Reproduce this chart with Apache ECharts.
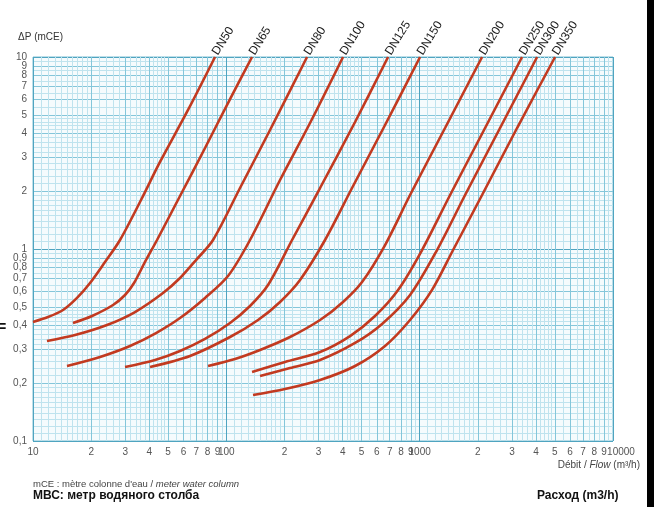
<!DOCTYPE html>
<html><head><meta charset="utf-8">
<script src="https://cdn.jsdelivr.net/npm/echarts@6/dist/echarts.min.js"></script>
<style>html,body{margin:0;padding:0;background:#fff}#c{width:654px;height:507px}</style>
</head><body><div id="c"></div>
<script>
// ---- data (flow m3/h, pressure drop mCE) ----
const seriesNames = ['DN50','DN65','DN80','DN100','DN125','DN150','DN200','DN250','DN300','DN350'];
const dn50  = [[10,0.417],[11.96,0.442],[14.3,0.481],[16.89,0.556],[19.72,0.665],[23.58,0.856],[28.19,1.114],[36.2,1.80],[45.39,2.84],[63.38,5.30],[87.41,10]];
const dn65  = [[16.1,0.412],[20.2,0.448],[25.94,0.511],[29.92,0.576],[33.31,0.665],[37.96,0.856],[43.81,1.114],[57.61,1.888],[77.59,3.357],[104.5,6.04],[135.8,10]];
const dn80  = [[11.81,0.332],[16.5,0.3565],[24.14,0.402],[33.71,0.4697],[47.05,0.59],[57.61,0.706],[69.7,0.876],[85.35,1.114],[117.7,2.078],[168.3,4.167],[261.5,10]];
const dn100 = [[14.99,0.2458],[22.22,0.274],[31.76,0.3125],[43.28,0.365],[57.61,0.437],[77.59,0.556],[102,0.723],[132.6,1.114],[189.6,2.288],[271,4.53],[401.5,10]];
const dn125 = [[29.92,0.2428],[42.77,0.2642],[57.61,0.2944],[77.59,0.34],[104.5,0.412],[132.6,0.505],[164.3,0.649],[218.8,1.114],[305.3,2.078],[463.4,4.587],[686.5,10]];
const dn150 = [[40.3,0.2428],[64.9,0.2772],[104.5,0.348],[145.9,0.4267],[189.6,0.53],[240.6,0.69],[324,1.114],[446.9,2.078],[662.2,4.425],[1004.6,10]];
const dn200 = [[80.41,0.2458],[110.9,0.2674],[149.4,0.2978],[213.5,0.348],[305.3,0.4267],[401.5,0.53],[503.5,0.673],[662.2,1.049],[891.9,1.911],[1353,4.267],[2103,10]];
const dn250 = [[135.8,0.2288],[201.2,0.258],[305.3,0.2908],[436.4,0.352],[587.7,0.448],[773.3,0.612],[1029,0.988],[1437,1.911],[2179,4.267],[3386,10]];
const dn300 = [[149.4,0.218],[213.5,0.24],[305.3,0.2642],[463.4,0.324],[639,0.407],[891.9,0.576],[1230,0.988],[1718,1.911],[2605,4.267],[4050,10]];
const dn350 = [[137.4,0.1736],[201.2,0.1865],[305.3,0.2078],[463.4,0.2458],[662.2,0.3125],[891.9,0.4267],[1159,0.612],[1489,0.988],[2103,1.911],[3190,4.267],[5016,10]];
const seriesData = [dn50,dn65,dn80,dn100,dn125,dn150,dn200,dn250,dn300,dn350];

const xTickValues = [10,20,30,40,50,60,70,80,90,100,200,300,400,500,600,700,800,900,1000,2000,3000,4000,5000,6000,7000,8000,9000,10000];
const xTickLabels = ['10','2','3','4','5','6','7','8','9','100','2','3','4','5','6','7','8','9','1000','2','3','4','5','6','7','8','9','10000'];
const yTickValues = [0.1,0.2,0.3,0.4,0.5,0.6,0.7,0.8,0.9,1,2,3,4,5,6,7,8,9,10];
const yTickLabels = ['0,1','0,2','0,3','0,4','0,5','0,6','0,7','0,8','0,9','1','2','3','4','5','6','7','8','9','10'];

// graph-paper grid values
function decades(lo, hi){ const d=[]; for(let v=lo; v<hi*1.0001; v*=10) d.push(v); return d; }
function majorVals(lo,hi){ return decades(lo,hi); }
function mediumVals(lo,hi){ const r=[]; decades(lo,hi).forEach(d=>{ if(d<hi*0.999) for(let k=2;k<=9;k++) r.push(d*k); }); return r; }
function fineVals(lo,hi){ const r=[]; decades(lo,hi).forEach(d=>{ if(d>=hi*0.999) return;
  for(let k=11;k<20;k++) r.push(d*k/10);
  for(let k=22;k<50;k+=2) if(k%10) r.push(d*k/10);
  for(let k=55;k<100;k+=5) if(k%10) r.push(d*k/10);
}); return r; }

const FONT = '"Liberation Sans", Arial, Helvetica, sans-serif';
function lookup(vals, labels){ return v => { const i = vals.findIndex(t => Math.abs(t - v) / t < 1e-4); return i >= 0 ? labels[i] : ''; }; }
const labelStyle = {color:'#555', fontSize:10, fontFamily:FONT, showMinLabel:true, showMaxLabel:true, hideOverlap:false};

function gridAxis(pos, lo, hi, vals, color, extra){
  return Object.assign({
    type:'log', logBase:10, min:lo, max:hi, gridIndex:0, position:pos, offset:0,
    axisLine:{show:false}, axisTick:{show:false, customValues: vals},
    axisLabel:{show:false}, splitLine:{show:true, lineStyle:{color:color, width:1}},
    z: 0
  }, extra||{});
}

// the last tick label (10000 / 10) sits on its own axis so it never hides its neighbour
const xAxes = [
  gridAxis('bottom',10,10000,fineVals(10,10000),'#bfe3ee',{
    axisLabel:Object.assign({show:true, customValues:xTickValues.slice(-1), formatter: lookup(xTickValues,xTickLabels),
      margin:6, padding:[0,0,0,16]}, labelStyle)
  }),
  gridAxis('bottom',10,10000,mediumVals(10,10000),'#84c6da'),
  gridAxis('bottom',10,10000,majorVals(10,10000),'#4fa4c0',{
    axisLabel:Object.assign({show:true, customValues:xTickValues.slice(0,-1), formatter: lookup(xTickValues,xTickLabels),
      margin:6}, labelStyle)
  })
];
const yAxes = [
  gridAxis('left',0.1,10,fineVals(0.1,10),'#bfe3ee',{
    axisLabel:Object.assign({show:true, customValues:yTickValues.slice(-1), formatter: lookup(yTickValues,yTickLabels),
      margin:6}, labelStyle)
  }),
  gridAxis('left',0.1,10,mediumVals(0.1,10),'#84c6da'),
  gridAxis('left',0.1,10,majorVals(0.1,10),'#4fa4c0',{
    axisLabel:Object.assign({show:true, customValues:yTickValues.slice(0,-1), formatter: lookup(yTickValues,yTickLabels),
      margin:6}, labelStyle)
  })
];

const series = seriesNames.map((name, si) => {
  const d = seriesData[si];
  return {
    name, type:'line', xAxisIndex:2, yAxisIndex:2, smooth:0.3,
    showSymbol:true, symbol:'circle', symbolSize:0, silent:true,
    lineStyle:{color:'#c23a20', width:2.6},
    itemStyle:{color:'#c23a20'},
    z: 5,
    data: d.map((p, i) => i === d.length - 1 ? {
      value:p,
      label:{show:true, formatter:name, position:'top', distance:3, rotate:58,
        align:'left', verticalAlign:'middle', color:'#1a1a1a', fontSize:12, fontFamily:FONT}
    } : {value:p})
  };
});

const chart = echarts.init(document.getElementById('c'), null, {renderer:'canvas'});
chart.setOption({
  animation:false,
  backgroundColor:'#ffffff',
  grid:{left:33, right:41, top:57, bottom:66, show:true, backgroundColor:'#f5fbfd', borderColor:'#7dbfd2', borderWidth:1},
  xAxis:xAxes, yAxis:yAxes,
  series,
  graphic:[
    {type:'text', left:18, top:32, style:{text:'ΔP (mCE)', fill:'#333', font:'10px '+FONT}},
    {type:'text', right:14, top:460, style:{
      text:'{a|Débit / }{b|Flow}{a| (m³/h)}',
      rich:{a:{fill:'#444', font:'10px '+FONT}, b:{fill:'#444', font:'italic 10px '+FONT}}}},
    {type:'text', left:33, top:479, style:{
      text:'{a|mCE : mètre colonne d\'eau / }{b|meter water column}',
      rich:{a:{fill:'#444', font:'9.5px '+FONT}, b:{fill:'#444', font:'italic 9.5px '+FONT}}}},
    {type:'text', left:33, top:490, style:{text:'МВС: метр водяного столба', fill:'#111', font:'bold 12px '+FONT}},
    {type:'text', left:537, top:490, style:{text:'Расход (m3/h)', fill:'#111', font:'bold 12px '+FONT}},
    {type:'text', left:-3, top:320, style:{text:'=', fill:'#111', font:'bold 16px '+FONT}},
    {type:'rect', left:647, top:0, shape:{width:7, height:507}, style:{fill:'#000'}}
  ]
});
</script></body></html>
